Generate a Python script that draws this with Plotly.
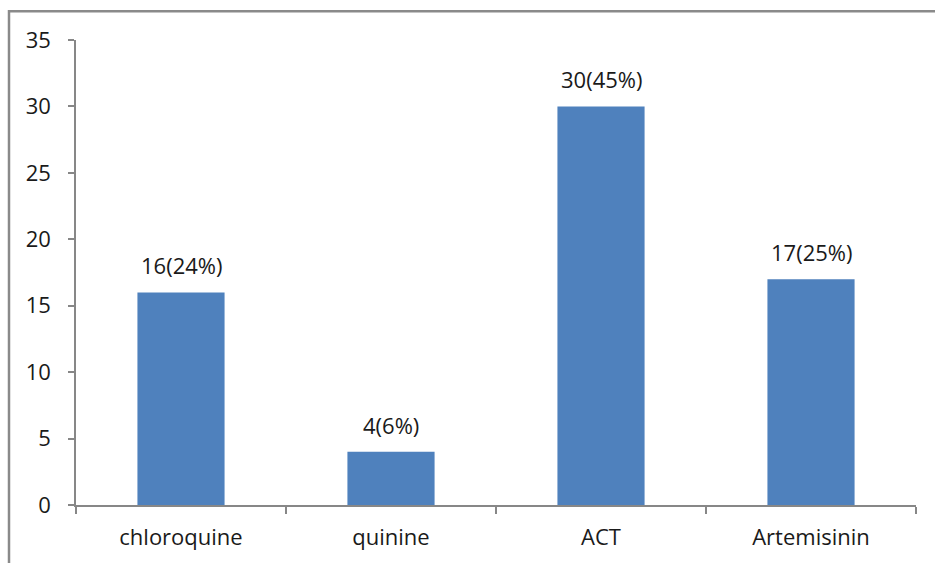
import plotly.graph_objects as go

# Antimalarial drugs and counts
drugs = ["chloroquine", "quinine", "ACT", "Artemisinin"]
counts = [16, 4, 30, 17]
percents = [24, 6, 45, 25]

labels = [f"{c}({p}%)" for c, p in zip(counts, percents)]

W, H = 935, 563
ml, mr, mt, mb = 76, 19, 40, 55
pw, ph = W - ml - mr, H - mt - mb

font = dict(family="Open Sans, DejaVu Sans, sans-serif", size=22, color="#1a1a1a")
axis_col = "#878787"

fig = go.Figure(
    go.Bar(
        x=drugs,
        y=counts,
        marker=dict(color="#4F81BD", line=dict(width=0)),
        width=0.415,
        hoverinfo="x+y",
    )
)

# Value labels above each bar
for d, c, t in zip(drugs, counts, labels):
    fig.add_annotation(
        x=d, y=c, text=t, showarrow=False,
        yanchor="bottom", yshift=10, font=font,
    )

fig.update_layout(
    width=W,
    height=H,
    margin=dict(l=ml, r=mr, t=mt, b=mb),
    paper_bgcolor="white",
    plot_bgcolor="white",
    showlegend=False,
    font=font,
)

fig.update_xaxes(
    type="category",
    showline=True,
    linecolor=axis_col,
    linewidth=1.5,
    ticks="outside",
    tickson="boundaries",
    ticklen=7,
    tickcolor=axis_col,
    tickwidth=1.5,
    showgrid=False,
    tickfont=font,
    ticklabelstandoff=12,
)

fig.update_yaxes(
    range=[0, 35],
    tickvals=[0, 5, 10, 15, 20, 25, 30, 35],
    showline=True,
    linecolor=axis_col,
    linewidth=1.5,
    ticks="outside",
    ticklen=6,
    tickcolor=axis_col,
    tickwidth=1.5,
    showgrid=False,
    zeroline=False,
    tickfont=font,
    ticklabelstandoff=13,
)

# Outer frame around the chart area
fig.add_shape(
    type="rect",
    xref="paper",
    yref="paper",
    x0=(9 - ml) / pw,
    x1=1 + (mr + 20) / pw,
    y0=-(mb + 20) / ph,
    y1=1 + (mt - 11) / ph,
    line=dict(color="#8a8a8a", width=2.5),
    fillcolor="rgba(0,0,0,0)",
    layer="below",
)

fig.write_html("out.html")
